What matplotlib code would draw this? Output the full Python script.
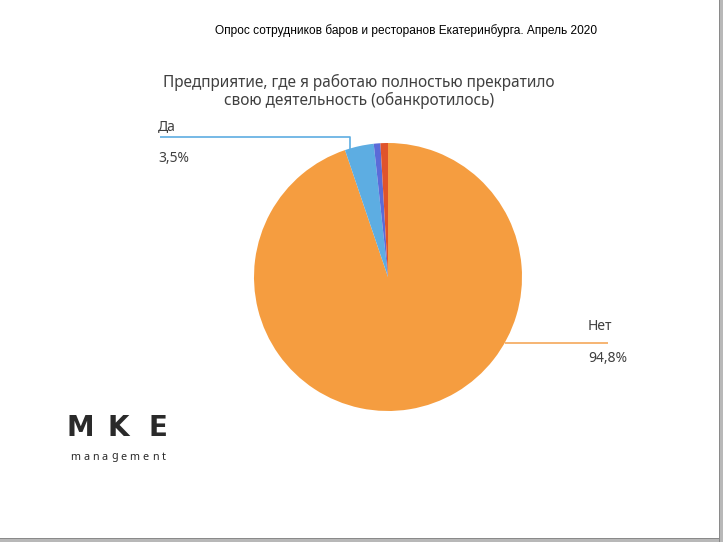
import matplotlib
matplotlib.use("Agg")
import matplotlib.pyplot as plt
from matplotlib.patches import Rectangle

# Data
categories = ["Нет", "Да", "Другое 1", "Другое 2"]
values = [94.8, 3.5, 0.8, 0.9]
colors = ["#F59D40", "#5DADE2", "#5B6BD8", "#E0542B"]
label_texts = {"Нет": "94,8%", "Да": "3,5%"}

W, H = 723, 542
fig = plt.figure(figsize=(W / 100, H / 100), dpi=100)
ax = fig.add_axes([0, 0, 1, 1])
ax.set_xlim(0, W)
ax.set_ylim(0, H)
ax.set_aspect("equal")
ax.axis("off")

def Y(py):
    return H - py

cx, cy, r = 388, 277, 134
ax.pie(values, colors=colors, startangle=90, counterclock=False,
       center=(cx, Y(cy)), radius=r, frame=False,
       wedgeprops=dict(linewidth=0))
ax.set_xlim(0, W)
ax.set_ylim(0, H)

label_font = "Noto Sans"
gray = "#404040"

# Headers
fig.text(406 / W, 1 - 31 / H, "Опрос сотрудников баров и ресторанов Екатеринбурга. Апрель 2020",
         ha="center", va="center", fontsize=8.6, family="Liberation Sans", color="black")
fig.text(359 / W, 1 - 91.5 / H,
         "Предприятие, где я работаю полностью прекратило\nсвою деятельность (обанкротилось)",
         ha="center", va="center", fontsize=11.1, family=label_font, color=gray,
         linespacing=1.05)

# Leader lines
ax.plot([350, 350, 160], [Y(149), Y(137), Y(137)], color="#5DADE2", lw=1.2,
        solid_capstyle="butt")
ax.plot([505, 608], [Y(343), Y(343)], color="#F5A85A", lw=1.2,
        solid_capstyle="butt")

# Labels
ax.text(158, Y(127), categories[1], ha="left", va="center", fontsize=10,
        family=label_font, color=gray)
ax.text(158, Y(158), label_texts["Да"], ha="left", va="center", fontsize=10,
        family=label_font, color=gray)
ax.text(588, Y(327), categories[0], ha="left", va="center", fontsize=10,
        family=label_font, color=gray)
ax.text(588, Y(358), label_texts["Нет"], ha="left", va="center", fontsize=10,
        family=label_font, color=gray)

# Logo
for ch, x in zip("MKE", [80, 118, 158]):
    ax.text(x, Y(428), ch, ha="center", va="center", fontsize=20,
            family="DejaVu Sans", weight="bold", color="#2a2a2a")

fig.canvas.draw()
renderer = fig.canvas.get_renderer()
word = "management"
x = 70.0
gap = 3.0
for ch in word:
    t = ax.text(x, Y(457), ch, ha="left", va="center", fontsize=7.8,
                family=label_font, color="#2a2a2a")
    bb = t.get_window_extent(renderer=renderer)
    x += bb.width + gap

# Frame shadow
fig.patches.append(Rectangle((719 / W, 0), 4 / W, 1, transform=fig.transFigure,
                             facecolor="#B8B8B8", edgecolor="none"))
fig.patches.append(Rectangle((0, 0), 1, 3.5 / H, transform=fig.transFigure,
                             facecolor="#B8B8B8", edgecolor="none"))
fig.patches.append(Rectangle((719 / W, 0), 1.2 / W, 1, transform=fig.transFigure,
                             facecolor="#8a8a8a", edgecolor="none"))
fig.patches.append(Rectangle((0, 3.5 / H), 720 / W, 1.0 / H, transform=fig.transFigure,
                             facecolor="#8a8a8a", edgecolor="none"))

fig.savefig("out.png", dpi=100)
